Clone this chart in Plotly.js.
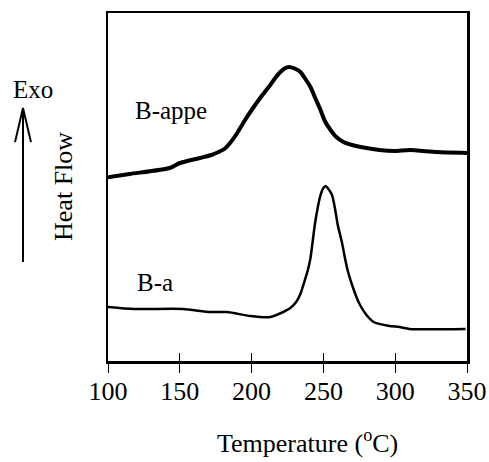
<!DOCTYPE html>
<html>
<head>
<meta charset="utf-8">
<script src="https://cdn.plot.ly/plotly-3.0.1.min.js"></script>
<style>html,body{margin:0;padding:0;background:#fff;}#chart{width:489px;height:462px;}</style>
</head>
<body>
<div id="chart"></div>
<script>
// B-appe trace (temperature in °C, heat flow in arbitrary units)
const appeTemp = [97, 115, 143, 150, 164, 172, 177, 181, 185, 190, 195, 201, 207, 213, 217, 220, 223, 226, 230, 234, 237, 241, 244, 248, 251, 255, 259, 264, 270, 276, 289, 300, 310, 329, 353];
const appeFlow = [185, 189, 195, 200, 205, 208, 211, 214, 220, 230, 242, 255, 267, 278, 286, 291, 294.5, 296, 294.5, 291, 285, 276, 266, 253, 242, 233, 226, 221, 218, 216, 213, 212, 213, 211, 210];

// B-a trace
const baTemp = [100, 118, 152, 171, 183, 199, 213, 222, 227, 231, 234, 236, 239, 241, 244, 246, 248, 250, 251.6, 253, 256, 258, 260, 263, 265, 267, 270, 273, 275.5, 280, 285, 296, 303, 310, 349];
const baFlow = [56, 54, 54, 51, 51, 47, 46, 51, 55, 61, 69, 78, 92, 105, 138, 155, 168, 175, 177, 175, 168, 155, 138, 120, 105, 92, 78, 66, 58, 48, 41, 37, 36, 34, 34];

const tickVals = [100, 150, 200, 250, 300, 350];
const tickText = ['100', '150', '200', '250', '300', '350'];

const FONT = 'Liberation Serif, Times New Roman, serif';

const traces = [
  {x: appeTemp, y: appeFlow, mode: 'lines', line: {color: '#000', width: 4, shape: 'spline', smoothing: 0.6}, hoverinfo: 'skip', showlegend: false},
  {x: baTemp, y: baFlow, mode: 'lines', line: {color: '#000', width: 2.5, shape: 'spline', smoothing: 0.6}, hoverinfo: 'skip', showlegend: false},
  {x: [100], y: [null], xaxis: 'x2', yaxis: 'y', mode: 'lines', showlegend: false, hoverinfo: 'skip'}
];

const layout = {
  width: 489, height: 462,
  margin: {l: 108, r: 22, t: 13, b: 101, pad: 0},
  paper_bgcolor: '#fff', plot_bgcolor: '#fff',
  font: {family: FONT, color: '#000', size: 26},
  xaxis: {
    range: [100, 350], showgrid: false, zeroline: false,
    showline: true, linecolor: '#000', linewidth: 2.5, mirror: true,
    ticks: 'outside', ticklen: 9, tickwidth: 1, tickcolor: '#000',
    tickvals: tickVals, ticktext: tickText, ticklabelstandoff: -4,
    tickfont: {family: FONT, size: 26, color: '#000'}
  },
  xaxis2: {
    range: [100, 350], overlaying: 'x', anchor: 'y', side: 'bottom',
    showgrid: false, zeroline: false, showline: false,
    ticks: 'inside', ticklen: 8, tickwidth: 1, tickcolor: '#000',
    tickvals: tickVals, showticklabels: false
  },
  yaxis: {
    range: [2, 350], showgrid: false, zeroline: false,
    showline: true, linecolor: '#000', linewidth: 2.5, mirror: true,
    ticks: '', showticklabels: false
  },
  shapes: [
    {type: 'line', xref: 'paper', yref: 'paper', x0: -0.2368, x1: -0.2368, y0: 0.2845, y1: 0.727, line: {color: '#000', width: 2}},
    {type: 'path', xref: 'paper', yref: 'paper', path: 'M -0.259 0.629 L -0.2368 0.727 L -0.2145 0.629', line: {color: '#000', width: 2}}
  ],
  annotations: [
    {text: 'B-appe', x: 143.9, y: 253, xref: 'x', yref: 'y', xanchor: 'center', yanchor: 'middle', showarrow: false, font: {family: FONT, size: 25, color: '#000'}},
    {text: 'B-a', x: 132.7, y: 81, xref: 'x', yref: 'y', xanchor: 'center', yanchor: 'middle', showarrow: false, font: {family: FONT, size: 25, color: '#000'}},
    {text: 'Exo', x: -0.2089, y: 0.7816, xref: 'paper', yref: 'paper', xanchor: 'center', yanchor: 'middle', showarrow: false, font: {family: FONT, size: 25, color: '#000'}},
    {text: 'Heat Flow', x: -0.1226, y: 0.503, xref: 'paper', yref: 'paper', xanchor: 'center', yanchor: 'middle', showarrow: false, textangle: -90, font: {family: FONT, size: 26, color: '#000'}},
    {text: 'Temperature (<sup>o</sup>C)', x: 0.557, y: -0.232, xref: 'paper', yref: 'paper', xanchor: 'center', yanchor: 'middle', showarrow: false, font: {family: FONT, size: 26, color: '#000'}}
  ]
};

Plotly.newPlot('chart', traces, layout, {displayModeBar: false, staticPlot: true});
</script>
</body>
</html>
